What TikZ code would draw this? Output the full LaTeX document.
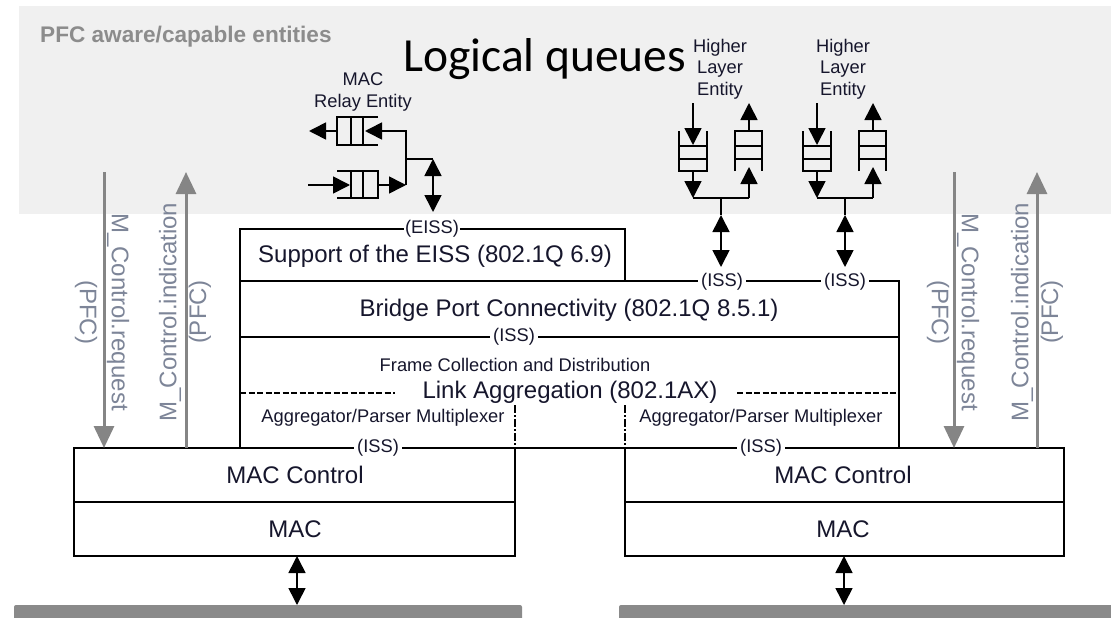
\documentclass[tikz,border=0pt]{standalone}
\usepackage{fontspec}
\setmainfont{Liberation Sans}
\newfontfamily\calibfont{Carlito}
\usetikzlibrary{arrows.meta}
\definecolor{bggray}{HTML}{F0F0F0}
\definecolor{titlegray}{HTML}{8C8C8C}
\definecolor{arrgray}{HTML}{858585}
\definecolor{txtc}{HTML}{16162C}
\definecolor{rotc}{HTML}{7D8598}
\definecolor{bargray}{HTML}{8A8A8A}
\newcommand{\fmain}{\fontsize{24}{28}\selectfont}
\newcommand{\fsml}{\fontsize{18.3}{21.5}\selectfont}
\begin{document}
\begin{tikzpicture}[x=1pt,y=-1pt,
  ln/.style={line width=1.6pt, draw=black},
  maintxt/.style={font=\fmain, text=txtc, inner sep=0pt},
  smltxt/.style={font=\fsml, text=txtc, inner sep=0pt},
  isslbl/.style={font=\fsml, text=txtc, fill=white, inner sep=3pt},
  bk/.style={-{Triangle[length=17pt,width=17pt]}, line width=1.6pt},
  bkk/.style={{Triangle[length=17pt,width=17pt]}-{Triangle[length=17pt,width=17pt]}, line width=1.6pt},
  gar/.style={-{Triangle[length=22pt,width=20pt]}, line width=3pt, draw=arrgray, fill=arrgray},
  rotlbl/.style={font=\fmain, text=rotc, inner sep=0pt},
  dsh/.style={line width=1.2pt, dash pattern=on 6pt off 2.5pt},
  dshdot/.style={line width=1.4pt, dash pattern=on 8pt off 2pt on 2pt off 2pt},
  ]
\useasboundingbox (0,0) rectangle (1111,618);
\fill[white] (0,0) rectangle (1111,618);
\fill[bggray] (19,6) rectangle (1111,214);

% titles
\node[anchor=base west, inner sep=0pt, font=\bfseries\fontsize{22.6}{26}\selectfont, text=titlegray] (title) at (40,43) {PFC aware/capable entities};
\node[anchor=base west, inner sep=0pt, font=\calibfont\fontsize{47.5}{52}\selectfont, text=black] (lq) at (403,72) {Logical queues};

% MAC relay entity
\node[smltxt, align=center] (relay) at (363,92) {MAC\\Relay Entity};
\draw[ln] (378,117) -- (337,117) -- (337,145) -- (378,145);
\draw[ln] (351,117) -- (351,145) (363,117) -- (363,145);
\draw[ln] (337,171) -- (378,171) -- (378,198) -- (337,198);
\draw[ln] (351,171) -- (351,198) (363,171) -- (363,198);
\coordinate (rqout) at (337,131);
\coordinate (rqoutend) at (309,131);
\coordinate (rjtop) at (406,131);
\coordinate (rqin) at (365,131);
\coordinate (rjbot) at (406,185);
\coordinate (rjmid) at (406,159);
\coordinate (rbin0) at (308,185);
\coordinate (rbin) at (350,185);
\coordinate (rbout) at (378,185);
\coordinate (rdbl) at (433,159);
\coordinate (rdblb) at (433,212);
\draw[bk] (rqout) -- (rqoutend);
\draw[bk] (rjbot) -- (rjtop) -- (rqin);
\draw[bk] (rbin0) -- (rbin);
\draw[bk] (rbout) -- (rjbot);
\draw[ln] (rjmid) -- (rdbl);
\draw[bkk] (rdbl) -- (rdblb);

% Higher layer entities
\node[smltxt, align=center] (hle1) at (720,69) {Higher\\Layer\\Entity};
\node[smltxt, align=center] (hle2) at (843,69) {Higher\\Layer\\Entity};
\foreach \cx/\n in {721/1,845/2}{
  \draw[ln] (\cx-42,131) -- (\cx-42,171) -- (\cx-14,171) -- (\cx-14,131);
  \draw[ln] (\cx-42,146) -- (\cx-14,146) (\cx-42,159) -- (\cx-14,159);
  \draw[ln] (\cx+14,171) -- (\cx+14,131) -- (\cx+41,131) -- (\cx+41,171);
  \draw[ln] (\cx+14,146) -- (\cx+41,146) (\cx+14,159) -- (\cx+41,159);
  \coordinate (hin\n) at (\cx-28,103);
  \coordinate (hinq\n) at (\cx-28,145);
  \coordinate (hlo\n) at (\cx-28,171);
  \coordinate (hlb\n) at (\cx-28,198);
  \coordinate (hrb\n) at (\cx+28,198);
  \coordinate (hri\n) at (\cx+28,167);
  \coordinate (hrt\n) at (\cx+28,131);
  \coordinate (hrout\n) at (\cx+28,103);
  \coordinate (hj\n) at (\cx,198);
  \coordinate (hd\n) at (\cx,215);
  \coordinate (hdb\n) at (\cx,267);
  \draw[bk] (hin\n) -- (hinq\n);
  \draw[bk] (hlo\n) -- (hlb\n);
  \draw[bk] (hrb\n) -- (hri\n);
  \draw[bk] (hrt\n) -- (hrout\n);
  \draw[ln] (hlb\n) -- (hrb\n);
  \draw[ln] (hj\n) -- (hd\n);
  \draw[bkk] (hd\n) -- (hdb\n);
}

% layer boxes
\draw[ln] (240,229) rectangle (625,281);
\draw[ln] (625,281) -- (899,281) -- (899,448);
\draw[ln] (240,281) -- (240,448);
\draw[ln] (240,337) -- (899,337);
\draw[ln] (74,448) rectangle (515,556);
\draw[ln] (74,502) -- (515,502);
\draw[ln] (625,448) rectangle (1064,556);
\draw[ln] (625,502) -- (1064,502);
\draw[ln] (515,448) -- (625,448);
\draw[dsh] (240,393) -- (395,393);
\draw[dsh] (737,393) -- (899,393);
\draw[dshdot] (515,405) -- (515,448);
\draw[dshdot] (625,405) -- (625,448);

% texts in boxes
\node[maintxt] (eiss) at (435,256) {Support of the EISS (802.1Q 6.9)};
\node[maintxt] (bpc) at (569,310) {Bridge Port Connectivity (802.1Q 8.5.1)};
\node[smltxt] (fcd) at (515,365) {Frame Collection and Distribution};
\node[maintxt] (la) at (570,392) {Link Aggregation (802.1AX)};
\node[smltxt] (apm1) at (383,418) {Aggregator/Parser Multiplexer};
\node[smltxt] (apm2) at (761,418) {Aggregator/Parser Multiplexer};
\node[maintxt] (macc1) at (295,475) {MAC Control};
\node[maintxt] (mac1) at (295,529) {MAC};
\node[maintxt] (macc2) at (843,475) {MAC Control};
\node[maintxt] (mac2) at (843,529) {MAC};

% interface labels
\node[isslbl, inner xsep=1pt] (eisslbl) at (432,229) {(EISS)};
\node[isslbl] (iss1) at (722,282) {(ISS)};
\node[isslbl] (iss2) at (845,282) {(ISS)};
\node[isslbl] (iss3) at (514,337) {(ISS)};
\node[isslbl] (iss4) at (378,448) {(ISS)};
\node[isslbl] (iss5) at (761,448) {(ISS)};

% PFC primitives
\coordinate (lreqt) at (104,172);
\coordinate (lreqb) at (104,448);
\coordinate (lindb) at (186,448);
\coordinate (lindt) at (186,172);
\coordinate (rreqt) at (954,172);
\coordinate (rreqb) at (954,448);
\coordinate (rindb) at (1037,448);
\coordinate (rindt) at (1037,172);
\draw[gar] (lreqt) -- (lreqb);
\draw[gar] (lindb) -- (lindt);
\draw[gar] (rreqt) -- (rreqb);
\draw[gar] (rindb) -- (rindt);
\node[rotlbl, rotate=-90] (lreq) at (118,312) {M\_Control.request};
\node[rotlbl, rotate=-90] (lpfc1) at (86,312) {(PFC)};
\node[rotlbl, rotate=90] (lind) at (170,312) {M\_Control.indication};
\node[rotlbl, rotate=90] (lpfc2) at (200,312) {(PFC)};
\node[rotlbl, rotate=-90] (rreq) at (968,312) {M\_Control.request};
\node[rotlbl, rotate=-90] (rpfc1) at (938,312) {(PFC)};
\node[rotlbl, rotate=90] (rind) at (1022,312) {M\_Control.indication};
\node[rotlbl, rotate=90] (rpfc2) at (1052,312) {(PFC)};

% media
\fill[bargray, rounded corners=2pt] (14,605) rectangle (522,620);
\fill[bargray, rounded corners=2pt] (619,605) rectangle (1114,620);
\coordinate (m1t) at (297,556);
\coordinate (m1b) at (297,605);
\coordinate (m2t) at (844,556);
\coordinate (m2b) at (844,605);
\draw[bkk] (m1t) -- (m1b);
\draw[bkk] (m2t) -- (m2b);
\end{tikzpicture}
\end{document}
